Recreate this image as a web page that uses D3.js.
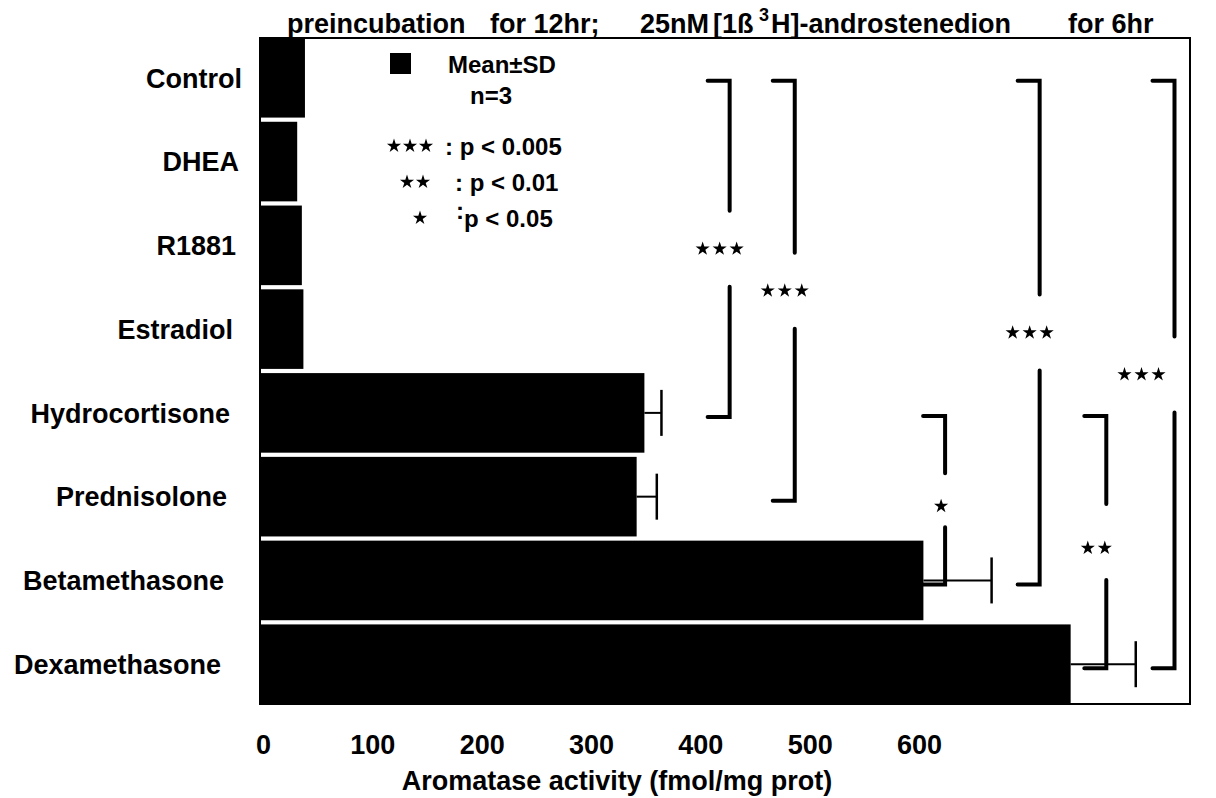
<!DOCTYPE html>
<html>
<head>
<meta charset="utf-8">
<script src="https://cdn.jsdelivr.net/npm/d3@7"></script>
<style>
  body { margin: 0; background: #fff; }
  svg { font-family: "Liberation Sans", Arial, Helvetica, sans-serif; font-weight: bold; }
</style>
</head>
<body>
<div id="chart"></div>
<script>
// treatments, top to bottom
var categories = ['Control', 'DHEA', 'R1881', 'Estradiol', 'Hydrocortisone',
                  'Prednisolone', 'Betamethasone', 'Dexamethasone'];
// aromatase activity, fmol/mg prot (mean)
var means = [29, 24, 27, 28, 248, 243, 428, 523];
// SD (only drawn where visible)
var sds = [null, null, null, null, 11, 13, 44, 42];

var xTicks = [0, 100, 200, 300, 400, 500, 600];

// significance brackets: from / to category, position along x (fmol), stars
var brackets = [
    { from: 'Control', to: 'Hydrocortisone', at: 303, stars: 3, dx: -10 },
    { from: 'Control', to: 'Prednisolone', at: 345, stars: 3, dx: -10 },
    { from: 'Control', to: 'Betamethasone', at: 503, stars: 3, dx: -10 },
    { from: 'Control', to: 'Dexamethasone', at: 590, stars: 3, dx: -33 },
    { from: 'Hydrocortisone', to: 'Betamethasone', at: 442, stars: 1, dx: -4 },
    { from: 'Hydrocortisone', to: 'Dexamethasone', at: 546, stars: 2, dx: -10 }
];

var pLevels = [
    { stars: 3, text: ': p < 0.005' },
    { stars: 2, text: ': p < 0.01' },
    { stars: 1, text: 'p < 0.05' }
];

var W = 1216, H = 798;
var frame = { left: 260, right: 1190, top: 38, bottom: 704 };

var svg = d3.select('#chart').append('svg')
            .attr('width', W).attr('height', H);

var x = d3.scaleLinear().domain([0, 600]).range([frame.left, frame.right]);
var y = d3.scaleBand().domain(categories)
          .range([frame.top, frame.bottom]).paddingInner(0.05).paddingOuter(0);
// tick labels sit on their own spacing in the original print
var xLab = d3.scaleLinear().domain([0, 600]).range([263, 919]);

function yMid(c) { return y(c) + y.bandwidth() / 2; }

// frame
svg.append('rect')
   .attr('x', frame.left).attr('y', frame.top)
   .attr('width', frame.right - frame.left).attr('height', frame.bottom - frame.top)
   .attr('fill', 'none').attr('stroke', '#000').attr('stroke-width', 2);

// bars
svg.append('g').selectAll('rect').data(categories).enter()
   .append('rect')
   .attr('x', x(0))
   .attr('y', function(c) { return y(c); })
   .attr('height', y.bandwidth())
   .attr('width', function(c, i) { return x(means[i]) - x(0); })
   .attr('fill', '#000');

// error bars
var eb = svg.append('g').attr('stroke', '#000');
categories.forEach(function(c, i) {
    if (sds[i] == null) return;
    var cy = yMid(c);
    eb.append('line')
      .attr('x1', x(means[i])).attr('x2', x(means[i] + sds[i]))
      .attr('y1', cy).attr('y2', cy).attr('stroke-width', 2);
    eb.append('line')
      .attr('x1', x(means[i] + sds[i])).attr('x2', x(means[i] + sds[i]))
      .attr('y1', cy - 23).attr('y2', cy + 23).attr('stroke-width', 2.5);
});

// category labels (the scan leans a little, so the right edge drifts left)
svg.append('g').selectAll('text').data(categories).enter()
   .append('text')
   .attr('x', function(c, i) { return 242 - 3 * i; })
   .attr('y', function(c) { return yMid(c); })
   .attr('dy', '0.36em')
   .attr('text-anchor', 'end')
   .attr('font-size', 27)
   .text(function(c) { return c; });

// star helper
var star = d3.symbol().type(d3.symbolStar).size(62);
function drawStars(g, n, cx, cy, gap) {
    for (var k = 0; k < n; k++) {
        g.append('path').attr('d', star)
         .attr('transform', 'translate(' + (cx + (k - (n - 1) / 2) * gap) + ',' + cy + ')')
         .attr('fill', '#000');
    }
}

// significance brackets
var bg = svg.append('g');
brackets.forEach(function(b) {
    var bx = x(b.at);
    var y1 = yMid(b.from) + 3;
    var y2 = yMid(b.to) + 4;
    var mid = (y1 + y2) / 2;
    var gap = Math.min(38, (y2 - y1) * 0.16);
    bg.append('path')
      .attr('d', 'M' + (bx - 22) + ',' + y1 + 'H' + bx + 'V' + (mid - gap) +
                 'M' + bx + ',' + (mid + gap) + 'V' + y2 + 'H' + (bx - 22))
      .attr('fill', 'none').attr('stroke', '#000')
      .attr('stroke-width', 4).attr('stroke-linecap', 'round');
    drawStars(bg, b.stars, bx + b.dx, mid + (b.stars === 3 ? 0 : 6), 17);
});

// legend
var lg = svg.append('g');
lg.append('rect').attr('x', 390).attr('y', 53).attr('width', 21).attr('height', 21).attr('fill', '#000');
lg.append('text').attr('x', 448).attr('y', 73).attr('font-size', 24).text('Mean±SD');
lg.append('text').attr('x', 470).attr('y', 104).attr('font-size', 24).text('n=3');
pLevels.forEach(function(p, i) {
    var ly = 146 + i * 36;
    drawStars(lg, p.stars, 410 + 5 * i, ly, 16);
    if (p.stars === 1) {
        lg.append('text').attr('x', 456).attr('y', ly + 1).attr('font-size', 24).text(':');
        lg.append('text').attr('x', 464).attr('y', ly + 9).attr('font-size', 24).text(p.text);
    } else {
        lg.append('text').attr('x', p.stars === 3 ? 445 : 455).attr('y', ly + 9)
          .attr('font-size', 24).text(p.text);
    }
});

// title
var title = svg.append('text').attr('y', 33).attr('font-size', 27).style('white-space', 'pre');
title.append('tspan').attr('x', 287).text('preincubation');
title.append('tspan').attr('x', 490).text('for 12hr;');
title.append('tspan').attr('x', 640).text('25nM');
title.append('tspan').attr('x', 713).text('[1ß');
title.append('tspan').attr('x', 759).attr('dy', -12).attr('font-size', 18).text('3');
title.append('tspan').attr('x', 771).attr('dy', 12).text('H]-androstenedion');
title.append('tspan').attr('x', 1068).text('for 6hr');

// x axis labels
var ax = svg.append('g')
            .attr('transform', 'translate(0,735)')
            .call(d3.axisBottom(xLab).tickValues(xTicks).tickSize(0).tickPadding(0));
ax.select('.domain').remove();
ax.selectAll('text').attr('font-size', 27).attr('font-weight', 'bold')
  .attr('font-family', '"Liberation Sans", Arial, sans-serif').attr('fill', '#000');

svg.append('text')
   .attr('x', 617).attr('y', 790)
   .attr('text-anchor', 'middle')
   .attr('font-size', 27)
   .text('Aromatase activity (fmol/mg prot)');
</script>
</body>
</html>
